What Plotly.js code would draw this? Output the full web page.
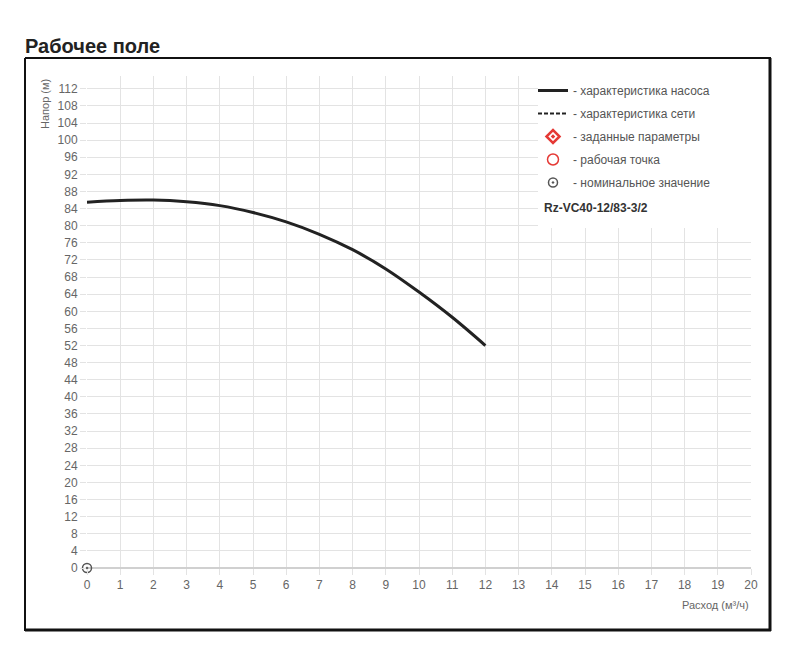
<!DOCTYPE html>
<html>
<head>
<meta charset="utf-8">
<script src="https://cdn.plot.ly/plotly-3.0.1.min.js"></script>
<style>
  html, body { margin: 0; padding: 0; background: #fff; }
  #chart { width: 800px; height: 665px; }
</style>
</head>
<body>
<div id="chart"></div>
<script>
// Data
const flowQ = [0, 1, 2, 3, 4, 5, 6, 7, 8, 9, 10, 11, 12];
const headH = [85.5, 85.9, 86.0, 85.6, 84.7, 83.1, 80.9, 78.0, 74.4, 69.9, 64.5, 58.6, 52.0];
const nominalQ = [0];
const nominalH = [0];
const legendNames = [
  "- характеристика насоса",
  "- характеристика сети",
  "- заданные параметры",
  "- рабочая точка",
  "- номинальное значение"
];
const pumpModel = "Rz-VC40-12/83-3/2";
const chartTitle = "Рабочее поле";
const yTitle = "Напор (м)";
const xTitle = "Расход (м³/ч)";

const FONT = "Liberation Sans, Arial, sans-serif";

const traces = [
  { x: flowQ, y: headH, mode: "lines", name: legendNames[0], legendgroup: "a",
    line: { color: "#222", width: 3, shape: "spline" }, hoverinfo: "skip" },
  { x: [null], y: [null], mode: "lines", name: legendNames[1], legendgroup: "b",
    line: { color: "#222", width: 2, dash: "4px,2px" } },
  { x: [null], y: [null], mode: "markers", name: legendNames[2], legendgroup: "c",
    marker: { symbol: "diamond-open-dot", size: 10, color: "#e53935", line: { width: 2.5, color: "#e53935" } } },
  { x: [null], y: [null], mode: "markers", name: legendNames[3], legendgroup: "d",
    marker: { symbol: "circle-open", size: 11, color: "#e53935", line: { width: 1.5, color: "#e53935" } } },
  { x: nominalQ, y: nominalH, mode: "markers", name: legendNames[4], legendgroup: "e", cliponaxis: false,
    marker: { symbol: "circle-open-dot", size: 9, color: "#555", line: { width: 1.5, color: "#555" } } }
];

const L = 87, R = 751, T = 76, B = 568;
const W = R - L, H = B - T;
const px = v => (v - L) / W;
const py = v => (B - v) / H;

const layout = {
  width: 800, height: 665,
  margin: { l: L, r: 800 - R, t: T, b: 665 - B, pad: 0 },
  paper_bgcolor: "#fff", plot_bgcolor: "#fff",
  font: { family: FONT, color: "#666", size: 12 },
  title: { text: "<b>" + chartTitle + "</b>", x: 25 / 800, xref: "container", xanchor: "left",
           y: 1 - 46 / 665, yref: "container", yanchor: "middle",
           font: { family: FONT, size: 20, color: "#222" } },
  xaxis: { range: [0, 20], dtick: 1, tick0: 0, showgrid: true, gridcolor: "#e3e3e3", gridwidth: 1,
           zeroline: false, showline: false, ticks: "outside", ticklen: 6, tickcolor: "#e3e3e3",
           tickfont: { size: 12, color: "#666" }, fixedrange: true },
  yaxis: { range: [0, 115], dtick: 4, tick0: 0, showgrid: true, gridcolor: "#e3e3e3", gridwidth: 1,
           zeroline: true, zerolinecolor: "#d0d0d0", zerolinewidth: 2, showline: false,
           ticks: "outside", ticklen: 6, tickcolor: "#e3e3e3",
           tickfont: { size: 12, color: "#666" }, fixedrange: true },
  showlegend: true,
  legend: { x: px(533), y: 1, xanchor: "left", yanchor: "top", bgcolor: "rgba(0,0,0,0)",
            borderwidth: 0, font: { family: FONT, size: 12, color: "#555" },
            tracegroupgap: 4, itemwidth: 30 },
  shapes: [
    { type: "rect", xref: "paper", yref: "paper", x0: px(538), x1: 1.0, y0: py(228), y1: 1.0,
      fillcolor: "#fff", line: { width: 0 }, layer: "above" },
    { type: "line", xref: "paper", yref: "paper", x0: px(25), x1: px(25), y0: py(58), y1: py(631),
      line: { color: "#111", width: 2 } },
    { type: "line", xref: "paper", yref: "paper", x0: px(25), x1: px(771), y0: py(58), y1: py(58),
      line: { color: "#111", width: 2 } },
    { type: "line", xref: "paper", yref: "paper", x0: px(770), x1: px(770), y0: py(58), y1: py(631),
      line: { color: "#111", width: 3 } },
    { type: "line", xref: "paper", yref: "paper", x0: px(25), x1: px(771), y0: py(630), y1: py(630),
      line: { color: "#111", width: 3 } }
  ],
  annotations: [
    { text: yTitle, xref: "paper", yref: "paper", x: px(45), y: py(104), textangle: -90,
      showarrow: false, xanchor: "center", yanchor: "middle", font: { family: FONT, size: 11, color: "#666" } },
    { text: xTitle, xref: "paper", yref: "paper", x: 1, y: py(605), showarrow: false,
      xanchor: "right", yanchor: "middle", font: { family: FONT, size: 11, color: "#666" } },
    { text: "<b>" + pumpModel + "</b>", xref: "paper", yref: "paper", x: px(542), y: py(208),
      showarrow: false, xanchor: "left", yanchor: "middle", font: { family: FONT, size: 12, color: "#333" } }
  ]
};

Plotly.newPlot("chart", traces, layout, { displayModeBar: false, staticPlot: true });
</script>
</body>
</html>
